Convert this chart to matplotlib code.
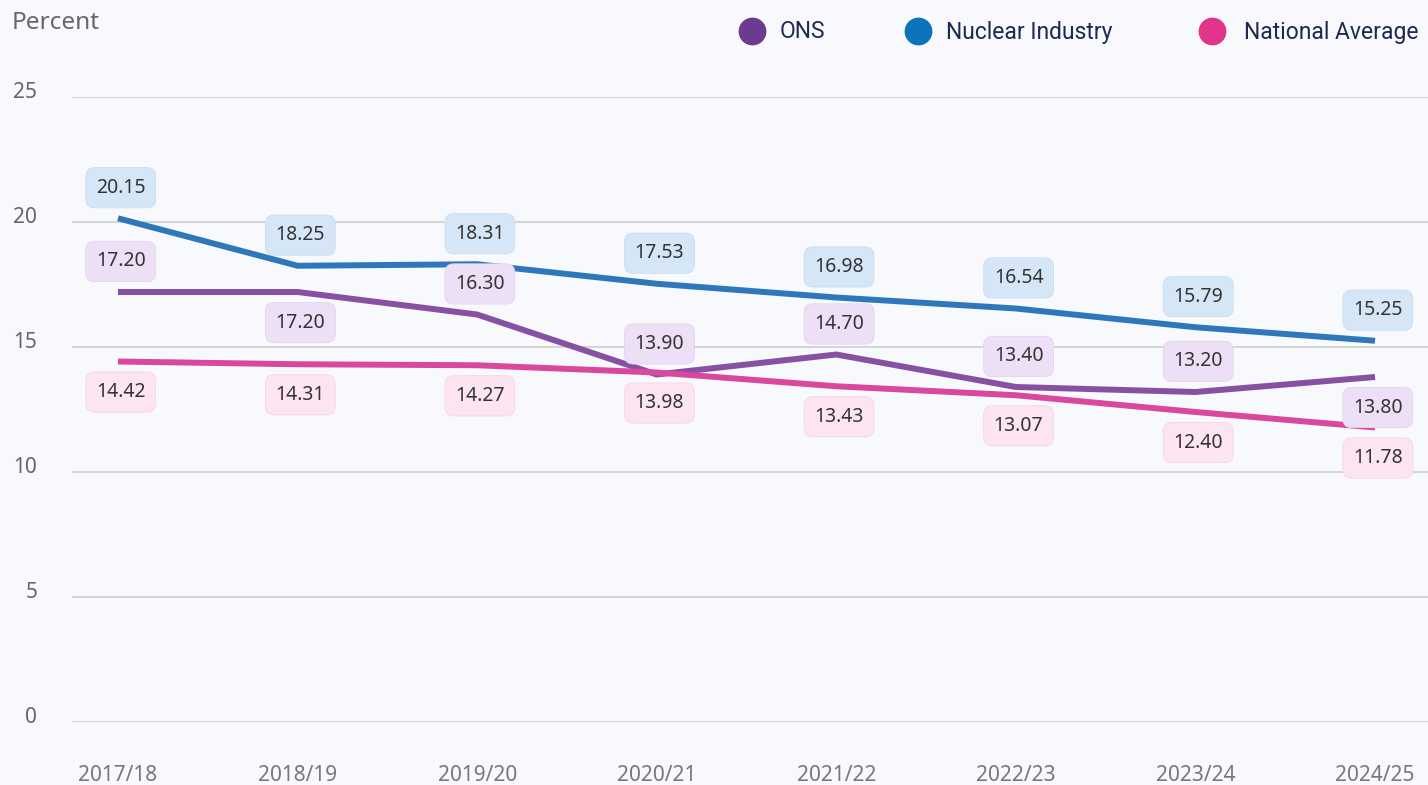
import matplotlib
matplotlib.use("Agg")
import matplotlib.pyplot as plt
import matplotlib.transforms as mtransforms
from matplotlib.lines import Line2D

# data
years = ["2017/18", "2018/19", "2019/20", "2020/21", "2021/22", "2022/23", "2023/24", "2024/25"]
ons = [17.20, 17.20, 16.30, 13.90, 14.70, 13.40, 13.20, 13.80]
nuclear = [20.15, 18.25, 18.31, 17.53, 16.98, 16.54, 15.79, 15.25]
national = [14.42, 14.31, 14.27, 13.98, 13.43, 13.07, 12.40, 11.78]
# label above (1) or below (-1) the point
ons_side = [1, -1, 1, 1, 1, 1, 1, -1]
nuclear_side = [1] * 8
national_side = [-1] * 8
yticks = [0, 5, 10, 15, 20, 25]

series = [
    ("ONS", ons, ons_side, "#8750a3", "#6d3a91", "#ede0f6", "#e2d4ee"),
    ("Nuclear Industry", nuclear, nuclear_side, "#2f77bb", "#0b73ba", "#d5e7f7", "#c9def1"),
    ("National Average", national, national_side, "#d9489c", "#e2348a", "#fde4f1", "#f4d6e6"),
]

bg = "#f8f9fc"
fig = plt.figure(figsize=(14.28, 7.85), dpi=100, facecolor=bg)
ax = fig.add_axes([72 / 1428, 63 / 785, 1356 / 1428, 625 / 785])
ax.set_facecolor(bg)

x = list(range(len(years)))
for name, vals, sides, lc, mc, fc, ec in series:
    ax.plot(x, vals, color=lc, lw=4.3, solid_capstyle="butt", zorder=3)
    for xi, v, s in zip(x, vals, sides):
        ax.annotate(f"{v:.2f}", (xi, v), xytext=(2, 22 * s), textcoords="offset points",
                    ha="center", va="center", fontsize=14, family="Noto Sans", color="#333333",
                    bbox=dict(boxstyle="round,pad=0.52,rounding_size=0.45", fc=fc, ec=ec, lw=0.6),
                    zorder=5)

ax.set_ylim(0, 25)
ax.set_xlim(-0.256, 7.295)
ax.set_yticks(yticks)
ax.set_xticks(x)
ax.set_xticklabels(years)
ax.grid(axis="y", color="#d4d4d4", lw=1.4, zorder=1)
ax.set_axisbelow(True)
for sp in ax.spines.values():
    sp.set_visible(False)
ax.tick_params(axis="y", length=0, pad=25, labelsize=15, labelcolor="#666666")
ax.tick_params(axis="x", length=0, pad=31, labelsize=15, labelcolor="#777777")
for lab in ax.get_xticklabels() + ax.get_yticklabels():
    lab.set_family("Noto Sans")
# y labels sit a little above their gridline
shift = mtransforms.ScaledTranslation(0, 7 / 100, fig.dpi_scale_trans)
for lab in ax.get_yticklabels():
    lab.set_transform(lab.get_transform() + shift)

fig.text(12 / 1428, 1 - 23 / 785, "Percent", fontsize=17.5, color="#666666",
         family="Noto Sans", va="center", ha="left")

# legend drawn by hand at the top right
leg_pos = [(752, 780), (918, 946), (1212, 1244)]
for (name, vals, sides, lc, mc, fc, ec), (mx, tx) in zip(series, leg_pos):
    fig.add_artist(Line2D([mx / 1428], [1 - 31 / 785], marker="o", markersize=19,
                          color=mc, transform=fig.transFigure, linestyle="none"))
    fig.text(tx / 1428, 1 - 32 / 785, name, fontsize=16.5, color="#1d2951",
             family="Roboto", va="center", ha="left")

fig.savefig("out.png", dpi=100, facecolor=bg)
